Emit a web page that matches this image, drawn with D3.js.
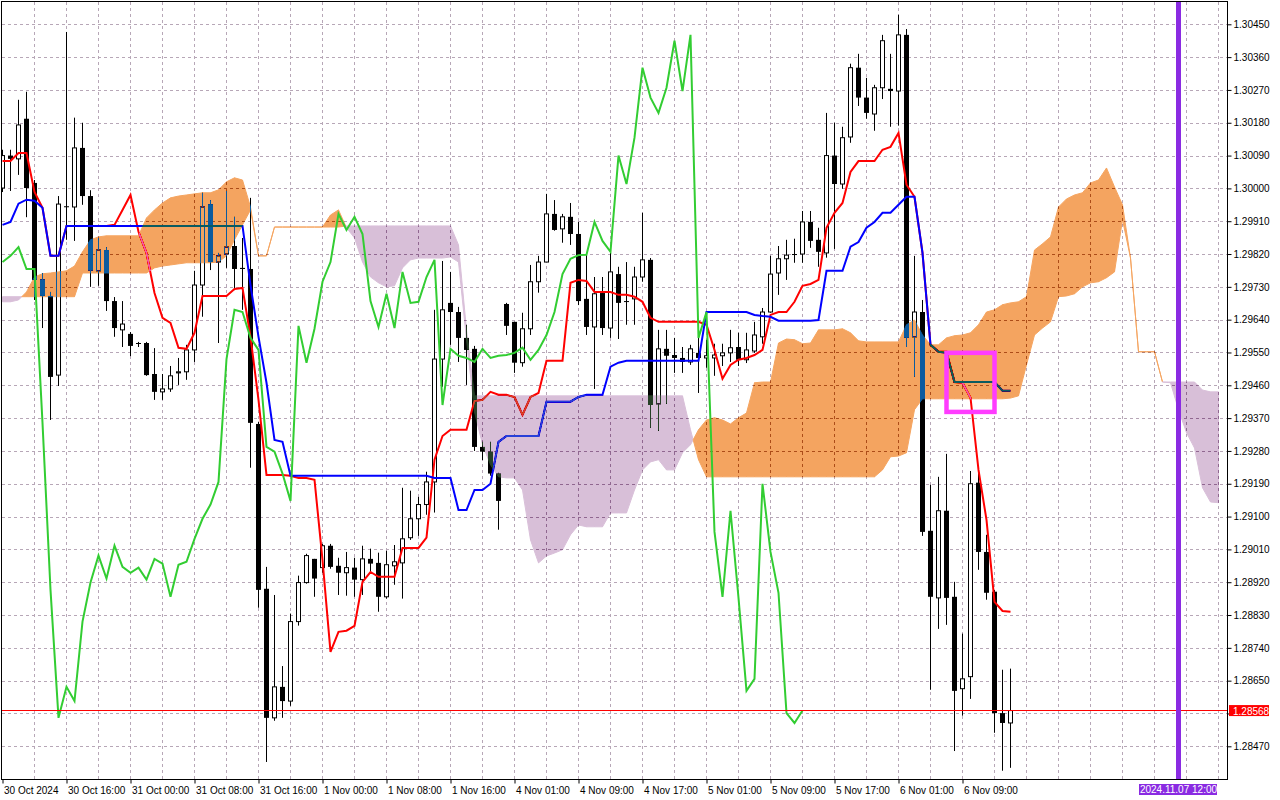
<!DOCTYPE html>
<html>
<head>
<meta charset="utf-8">
<script src="https://cdn.jsdelivr.net/npm/d3@7"></script>
<style>
body { margin: 0; background: #fff; }
svg text { font-family: 'Liberation Sans', Arial, sans-serif; font-size: 10px; fill: #000; }
</style>
</head>
<body>
<div id="grafico"></div>
<script>
const width = 1280
const height = 800

// GBPUSD H1, one value per bar (bar 0 = 30 Oct 08:00)
const open = [1.30001,1.30090,1.30081,1.30191,1.30015,1.29751,1.29705,1.29488,1.29951,1.29949,
1.30111,1.29979,1.29774,1.29831,1.29691,1.29612,1.29601,1.29576,1.29576,1.29491,
1.29442,1.29450,1.29494,1.29497,1.29557,1.29735,1.29957,1.29798,1.29820,1.29842,
1.29782,1.29779,1.29354,1.28902,1.28548,1.28633,1.28594,1.28812,1.28919,1.28984,
1.28960,1.29020,1.28965,1.28946,1.28960,1.28927,1.28984,1.28973,1.28880,1.28965,
1.28973,1.29042,1.29094,1.29133,1.29195,1.29532,1.29686,1.29661,1.29590,1.29560,
1.29291,1.29278,1.29218,1.29683,1.29634,1.29522,1.29615,1.29744,1.29798,1.29930,
1.29889,1.29922,1.29875,1.29697,1.29620,1.29713,1.29617,1.29765,1.29691,1.29697,
1.29757,1.29804,1.29409,1.29560,1.29543,1.29535,1.29524,1.29549,1.29535,1.29535,
1.29541,1.29549,1.29565,1.29530,1.29554,1.29593,1.29661,1.29768,1.29807,1.29820,
1.29820,1.29908,1.29859,1.29823,1.30090,1.30012,1.30141,1.30331,1.30249,1.30204,
1.30276,1.30273,1.30267,1.30421,1.29593,1.29661,1.29061,1.28877,1.29116,1.28880,
1.28628,1.28661,1.29193,1.29003,1.28894,1.28561,1.28534]
const high = [1.30106,1.30106,1.30243,1.30265,1.30023,1.29768,1.29716,1.29979,1.30429,1.30194,
1.30180,1.29995,1.29864,1.29839,1.29702,1.29691,1.29606,1.29579,1.29579,1.29562,
1.29491,1.29513,1.29535,1.29571,1.29774,1.29988,1.29968,1.29823,1.29993,1.29922,
1.29864,1.29974,1.29360,1.28962,1.28885,1.28690,1.28834,1.28938,1.28998,1.28984,
1.29025,1.29025,1.28987,1.29003,1.28987,1.29020,1.29012,1.29001,1.29006,1.29022,
1.29179,1.29171,1.29154,1.29223,1.29667,1.29801,1.29771,1.29675,1.29626,1.29568,
1.29305,1.29305,1.29220,1.29686,1.29634,1.29659,1.29790,1.29815,1.29985,1.29968,
1.29930,1.29960,1.29908,1.29818,1.29757,1.29757,1.29823,1.29785,1.29798,1.29785,
1.29933,1.29809,1.29612,1.29612,1.29590,1.29565,1.29571,1.29590,1.29585,1.29574,
1.29574,1.29612,1.29604,1.29604,1.29634,1.29672,1.29815,1.29842,1.29859,1.29862,
1.29938,1.29938,1.29892,1.30207,1.30180,1.30169,1.30342,1.30369,1.30303,1.30284,
1.30421,1.30369,1.30476,1.30437,1.29815,1.29694,1.29187,1.29209,1.29272,1.28921,
1.28779,1.29225,1.29228,1.29050,1.28899,1.28680,1.28683]
const low = [1.29990,1.29993,1.30037,1.29921,1.29694,1.29617,1.29365,1.29458,1.29859,1.29856,
1.29955,1.29730,1.29733,1.29664,1.29593,1.29565,1.29540,1.29565,1.29486,1.29420,
1.29420,1.29442,1.29461,1.29475,1.29524,1.29648,1.29776,1.29576,1.29782,1.29721,
1.29667,1.29234,1.28850,1.28427,1.28540,1.28548,1.28581,1.28801,1.28916,1.28880,
1.28946,1.28957,1.28885,1.28883,1.28880,1.28885,1.28946,1.28839,1.28875,1.28913,
1.28875,1.29036,1.29047,1.29105,1.29111,1.29456,1.29571,1.29524,1.29461,1.29280,
1.29255,1.29212,1.29064,1.29598,1.29494,1.29511,1.29598,1.29714,1.29798,1.29884,
1.29851,1.29845,1.29680,1.29598,1.29450,1.29598,1.29590,1.29587,1.29626,1.29626,
1.29744,1.29343,1.29335,1.29409,1.29494,1.29494,1.29516,1.29439,1.29508,1.29486,
1.29513,1.29524,1.29513,1.29521,1.29549,1.29574,1.29659,1.29708,1.29749,1.29796,
1.29796,1.29837,1.29785,1.29810,1.29834,1.29999,1.30125,1.30226,1.30191,1.30158,
1.30245,1.30169,1.30172,1.29565,1.29483,1.29047,1.28625,1.28792,1.28803,1.28457,
1.28554,1.28600,1.28954,1.28872,1.28507,1.28403,1.28411]
const close = [1.30090,1.30081,1.30174,1.30001,1.29749,1.29705,1.29483,1.29957,1.29949,1.30111,
1.29979,1.29774,1.29831,1.29691,1.29617,1.29628,1.29568,1.29574,1.29488,1.29442,
1.29450,1.29486,1.29497,1.29557,1.29735,1.29949,1.29798,1.29815,1.29839,1.29779,
1.29779,1.29357,1.28899,1.28548,1.28633,1.28594,1.28812,1.28919,1.28993,1.28930,
1.29020,1.28962,1.28946,1.28960,1.28927,1.28984,1.28971,1.28880,1.28968,1.28976,
1.29039,1.29094,1.29133,1.29195,1.29532,1.29667,1.29661,1.29590,1.29557,1.29291,
1.29278,1.29218,1.29143,1.29623,1.29522,1.29615,1.29744,1.29798,1.29930,1.29886,
1.29922,1.29875,1.29691,1.29620,1.29711,1.29617,1.29771,1.29686,1.29689,1.29757,
1.29804,1.29406,1.29560,1.29541,1.29535,1.29524,1.29560,1.29535,1.29541,1.29543,
1.29549,1.29563,1.29530,1.29557,1.29598,1.29661,1.29765,1.29807,1.29817,1.29818,
1.29908,1.29856,1.29826,1.30090,1.30012,1.30139,1.30331,1.30249,1.30207,1.30276,
1.30405,1.30267,1.30421,1.29590,1.29661,1.29058,1.28880,1.29116,1.28877,1.28622,
1.28655,1.29190,1.29003,1.28891,1.28561,1.28534,1.28568]

// Ichimoku lines
const tenkan = [1.30075,1.30075,1.30097,1.30097,1.29990,1.29947,1.29815,1.29815,1.29897,1.29897,
1.29897,1.29897,1.29897,1.29897,1.29900,1.29941,1.29982,1.29881,1.29823,1.29713,
1.29645,1.29631,1.29563,1.29560,1.29604,1.29705,1.29705,1.29705,1.29705,1.29724,
1.29727,1.29593,1.29420,1.29214,1.29214,1.29214,1.29212,1.29206,1.29206,1.29201,
1.28981,1.28729,1.28784,1.28787,1.28800,1.28921,1.28948,1.28935,1.28935,1.28935,
1.29014,1.29014,1.29014,1.29042,1.29256,1.29321,1.29338,1.29338,1.29338,1.29417,
1.29420,1.29442,1.29434,1.29434,1.29428,1.29379,1.29428,1.29439,1.29527,1.29527,
1.29527,1.29741,1.29749,1.29746,1.29716,1.29716,1.29716,1.29708,1.29708,1.29703,
1.29689,1.29645,1.29634,1.29634,1.29634,1.29634,1.29634,1.29634,1.29626,1.29557,
1.29478,1.29516,1.29530,1.29535,1.29543,1.29557,1.29653,1.29661,1.29661,1.29689,
1.29733,1.29738,1.29749,1.29892,1.29933,1.29960,1.30045,1.30075,1.30075,1.30075,
1.30106,1.30114,1.30152,1.30010,1.29977,1.29823,1.29571,1.29552,1.29552,1.29469,
1.29467,1.29426,1.29228,1.29091,1.28866,1.28841,1.28839]
const kijun = [1.29900,1.29908,1.29958,1.29969,1.29966,1.29947,1.29815,1.29815,1.29897,1.29897,
1.29897,1.29897,1.29897,1.29897,1.29897,1.29897,1.29897,1.29897,1.29897,1.29897,
1.29897,1.29897,1.29897,1.29897,1.29897,1.29897,1.29897,1.29897,1.29897,1.29897,
1.29897,1.29735,1.29593,1.29467,1.29310,1.29305,1.29212,1.29212,1.29212,1.29212,
1.29212,1.29212,1.29212,1.29212,1.29212,1.29212,1.29212,1.29212,1.29212,1.29212,
1.29212,1.29212,1.29212,1.29212,1.29206,1.29206,1.29206,1.29118,1.29118,1.29173,
1.29173,1.29190,1.29305,1.29321,1.29321,1.29321,1.29321,1.29321,1.29415,1.29415,
1.29415,1.29415,1.29428,1.29434,1.29434,1.29434,1.29511,1.29522,1.29527,1.29527,
1.29527,1.29527,1.29527,1.29527,1.29527,1.29527,1.29527,1.29527,1.29661,1.29661,
1.29661,1.29661,1.29661,1.29661,1.29653,1.29650,1.29648,1.29637,1.29637,1.29637,
1.29637,1.29637,1.29639,1.29774,1.29774,1.29774,1.29840,1.29853,1.29892,1.29908,
1.29933,1.29933,1.29955,1.29977,1.29977,1.29823,1.29571,1.29552,1.29549,1.29469,
1.29469,1.29469,1.29469,1.29469,1.29469,1.29445,1.29445]
// Senkou spans, already shifted 26 bars ahead (bars 0..152)
const spanA = [1.29689,1.29689,1.29694,1.29716,1.29757,1.29766,1.29768,1.29771,1.29774,1.29787,
1.29826,1.29859,1.29867,1.29870,1.29870,1.29870,1.29870,1.29870,1.29919,1.29941,
1.29960,1.29974,1.29979,1.29982,1.29985,1.29988,1.29988,1.29996,1.30018,1.30029,
1.30023,1.29949,1.29815,1.29815,1.29894,1.29894,1.29894,1.29894,1.29894,1.29894,
1.29894,1.29927,1.29941,1.29892,1.29864,1.29798,1.29757,1.29741,1.29730,1.29733,
1.29782,1.29804,1.29809,1.29809,1.29809,1.29809,1.29812,1.29798,1.29585,1.29387,
1.29297,1.29242,1.29209,1.29206,1.29206,1.29173,1.29036,1.28973,1.28992,1.29000,
1.29009,1.29050,1.29077,1.29072,1.29072,1.29072,1.29110,1.29110,1.29110,1.29173,
1.29228,1.29250,1.29256,1.29228,1.29228,1.29275,1.29297,1.29338,1.29365,1.29371,
1.29365,1.29354,1.29371,1.29384,1.29467,1.29469,1.29469,1.29576,1.29587,1.29585,
1.29574,1.29576,1.29612,1.29612,1.29612,1.29615,1.29604,1.29582,1.29579,1.29579,
1.29579,1.29579,1.29579,1.29626,1.29639,1.29598,1.29571,1.29571,1.29590,1.29596,
1.29598,1.29604,1.29626,1.29661,1.29667,1.29681,1.29686,1.29689,1.29703,1.29831,
1.29848,1.29867,1.29949,1.29971,1.29982,1.29988,1.30015,1.30023,1.30056,1.30004,
1.29955,1.29809,1.29552,1.29552,1.29552,1.29469,1.29467,1.29393,1.29330,1.29288,
1.29179,1.29140,1.29138]
const spanB = [1.29703,1.29703,1.29703,1.29703,1.29703,1.29703,1.29703,1.29703,1.29703,1.29703,
1.29768,1.29768,1.29768,1.29768,1.29768,1.29768,1.29768,1.29768,1.29768,1.29782,
1.29787,1.29790,1.29793,1.29796,1.29796,1.29796,1.29796,1.29798,1.29815,1.29859,
1.29900,1.29941,1.29815,1.29815,1.29894,1.29894,1.29894,1.29894,1.29894,1.29894,
1.29894,1.29894,1.29894,1.29897,1.29897,1.29897,1.29897,1.29897,1.29897,1.29897,
1.29897,1.29897,1.29897,1.29897,1.29897,1.29897,1.29897,1.29845,1.29612,1.29431,
1.29431,1.29431,1.29431,1.29431,1.29431,1.29431,1.29431,1.29431,1.29431,1.29431,
1.29431,1.29431,1.29431,1.29431,1.29431,1.29431,1.29431,1.29431,1.29431,1.29431,
1.29431,1.29431,1.29431,1.29431,1.29431,1.29431,1.29338,1.29256,1.29209,1.29209,
1.29209,1.29209,1.29209,1.29209,1.29209,1.29209,1.29209,1.29209,1.29209,1.29209,
1.29209,1.29209,1.29209,1.29209,1.29209,1.29209,1.29209,1.29209,1.29209,1.29209,
1.29228,1.29264,1.29266,1.29275,1.29393,1.29423,1.29423,1.29423,1.29423,1.29423,
1.29423,1.29423,1.29423,1.29423,1.29423,1.29423,1.29425,1.29431,1.29516,1.29598,
1.29617,1.29634,1.29703,1.29705,1.29711,1.29730,1.29741,1.29744,1.29755,1.29771,
1.29914,1.29809,1.29552,1.29552,1.29552,1.29469,1.29469,1.29469,1.29469,1.29469,
1.29447,1.29442,1.29442]

const priceTicks = [1.30450,1.30360,1.30270,1.30180,1.30090,1.30000,1.29910,1.29820,1.29730,1.29640,
1.29550,1.29460,1.29370,1.29280,1.29190,1.29100,1.29010,1.28920,1.28830,1.28740,1.28650,1.28560,1.28470]
const timeBars = [0,8,16,24,32,40,48,56,64,72,80,88,96,104,112,120]
const timeLabels = ['30 Oct 2024','30 Oct 16:00','31 Oct 00:00','31 Oct 08:00','31 Oct 16:00',
'1 Nov 00:00','1 Nov 08:00','1 Nov 16:00','4 Nov 01:00','4 Nov 09:00','4 Nov 17:00',
'5 Nov 01:00','5 Nov 09:00','5 Nov 17:00','6 Nov 01:00','6 Nov 09:00']
const lastPrice = 1.28568
const markerBar = 147
const markerLabel = '2024.11.07 12:00'
const boxBars = [118, 124]
const boxPrices = [1.29549, 1.29387]

const svg = d3.select('#grafico').append('svg')
              .attr('width', width)
              .attr('height', height)

svg.append('rect').attr('width', width).attr('height', height).attr('fill', '#fff')

const x = d3.scaleLinear().domain([0, 152]).range([2.5, 1218.5])
const y = d3.scaleLinear().domain([1.28470, 1.30450]).range([746.3, 24.3])

svg.append('clipPath').attr('id', 'plot')
   .append('rect').attr('x', 2).attr('y', 2).attr('width', 1225).attr('height', 777)

const chart = svg.append('g').attr('clip-path', 'url(#plot)')
// opaque backdrop inside the clipped layer, so the cloud can blend on it
chart.append('rect').attr('x', 0).attr('y', 0).attr('width', width).attr('height', height).attr('fill', '#fff')

// grid
const gridColor = '#b7a7b7'
chart.append('g').selectAll('line')
     .data(d3.range(4, 153, 4))
     .enter().append('line')
     .attr('x1', d => x(d)).attr('x2', d => x(d))
     .attr('y1', 2).attr('y2', 779)
     .attr('stroke', gridColor).attr('stroke-dasharray', '3,3')
chart.append('g').selectAll('line')
     .data(priceTicks)
     .enter().append('line')
     .attr('x1', 2).attr('x2', 1227)
     .attr('y1', d => Math.round(y(d)) + 0.5).attr('y2', d => Math.round(y(d)) + 0.5)
     .attr('stroke', gridColor).attr('stroke-dasharray', '3,3')

// candles
const bars = open.map((o, i) => ({ i, o, h: high[i], l: low[i], c: close[i] }))
const candle = chart.append('g').selectAll('g')
                    .data(bars)
                    .enter().append('g')
candle.append('line')
      .attr('x1', d => x(d.i)).attr('x2', d => x(d.i))
      .attr('y1', d => y(d.h)).attr('y2', d => y(d.l))
      .attr('stroke', '#000')
candle.append('rect')
      .attr('x', d => d.c >= d.o ? x(d.i) - 2 : x(d.i) - 2.5)
      .attr('width', d => d.c >= d.o ? 4 : 5)
      .attr('y', d => y(Math.max(d.o, d.c)))
      .attr('height', d => Math.max(1, Math.abs(y(d.o) - y(d.c))))
      .attr('fill', d => d.c >= d.o ? '#fff' : '#000')
      .attr('stroke', d => d.c >= d.o ? '#000' : 'none')

const line = d3.line().x((d, i) => x(i)).y(d => y(d))

chart.append('path').datum(tenkan).attr('d', line)
     .attr('fill', 'none').attr('stroke', '#ff0000').attr('stroke-width', 2)
chart.append('path').datum(kijun).attr('d', line)
     .attr('fill', 'none').attr('stroke', '#0000ff').attr('stroke-width', 2)

// cloud: filled like the terminal does (xor against what is below)
const cloudPieces = []
for (let k = 0; k < spanA.length - 1; k++) {
    const a0 = spanA[k], b0 = spanB[k], a1 = spanA[k + 1], b1 = spanB[k + 1]
    const d0 = a0 - b0, d1 = a1 - b1
    if (d0 * d1 < 0) {
        const t = d0 / (d0 - d1)
        const kc = k + t, vc = a0 + t * (a1 - a0)
        cloudPieces.push({ up: d0 > 0, pts: [[k, a0], [kc, vc], [k, b0]] })
        cloudPieces.push({ up: d1 > 0, pts: [[kc, vc], [k + 1, a1], [k + 1, b1]] })
    } else {
        cloudPieces.push({ up: d0 + d1 >= 0, pts: [[k, a0], [k + 1, a1], [k + 1, b1], [k, b0]] })
    }
}
const cloud = chart.append('g').style('mix-blend-mode', 'difference')
cloud.selectAll('path')
     .data(cloudPieces)
     .enter().append('path')
     .attr('d', d => 'M' + d.pts.map(p => x(p[0]) + ',' + y(p[1])).join('L') + 'Z')
     .attr('fill', d => d.up ? '#0b5b9f' : '#274027')
     .attr('stroke', d => d.up ? '#0b5b9f' : '#274027')
     .attr('stroke-width', 1)

// chikou = close moved 26 bars back
chart.append('path').datum(close.slice(26)).attr('d', line)
     .attr('fill', 'none').attr('stroke', '#32cd32').attr('stroke-width', 2)

// bid line
chart.append('line')
     .attr('x1', 2).attr('x2', 1227)
     .attr('y1', Math.round(y(lastPrice)) - 0.5).attr('y2', Math.round(y(lastPrice)) - 0.5)
     .attr('stroke', '#ff0000').attr('shape-rendering', 'crispEdges')

// vertical marker
chart.append('line')
     .attr('x1', x(markerBar)).attr('x2', x(markerBar))
     .attr('y1', 2).attr('y2', 779)
     .attr('stroke', '#8a2be2').attr('stroke-width', 5)

// rectangle object
chart.append('rect')
     .attr('x', x(boxBars[0])).attr('y', y(boxPrices[0]))
     .attr('width', x(boxBars[1]) - x(boxBars[0]))
     .attr('height', y(boxPrices[1]) - y(boxPrices[0]))
     .attr('fill', 'none').attr('stroke', '#ff3cff').attr('stroke-width', 4.5)

// frame
svg.append('rect').attr('x', 1.5).attr('y', 1.5).attr('width', 1226).attr('height', 778)
   .attr('fill', 'none').attr('stroke', '#000')

const yAxis = svg.append('g').attr('transform', 'translate(1227.5,0)')
                 .call(d3.axisRight(y).tickValues(priceTicks).tickSize(4).tickFormat(d3.format('.5f')))
yAxis.select('.domain').remove()
yAxis.selectAll('text').attr('x', 6).style('font-size', '10px').style('font-family', "'Liberation Sans', Arial, sans-serif")
// the bid label covers the level nearest to it
yAxis.selectAll('.tick').filter(d => Math.abs(d - lastPrice) < 0.0002).select('text').remove()

const xAxis = svg.append('g').attr('transform', 'translate(0,779.5)')
                 .call(d3.axisBottom(x).tickValues(timeBars).tickSize(4).tickFormat((d, i) => timeLabels[i]))
xAxis.select('.domain').remove()
xAxis.selectAll('text').attr('text-anchor', 'start').attr('x', 1)
     .style('font-size', '10px').style('font-family', "'Liberation Sans', Arial, sans-serif")

// bid label
const yb = y(lastPrice)
svg.append('rect').attr('x', 1229).attr('y', yb - 5.5).attr('width', 40).attr('height', 11).attr('fill', '#ff0000')
svg.append('text').attr('x', 1233).attr('y', yb + 4).text(lastPrice.toFixed(5)).style('fill', '#fff')

// marker time label
svg.append('rect').attr('x', x(markerBar) - 39.5).attr('y', 784).attr('width', 78).attr('height', 11).attr('fill', '#8a2be2')
svg.append('text').attr('x', x(markerBar)).attr('y', 793).attr('text-anchor', 'middle')
   .text(markerLabel).style('fill', '#fff')
</script>
</body>
</html>
